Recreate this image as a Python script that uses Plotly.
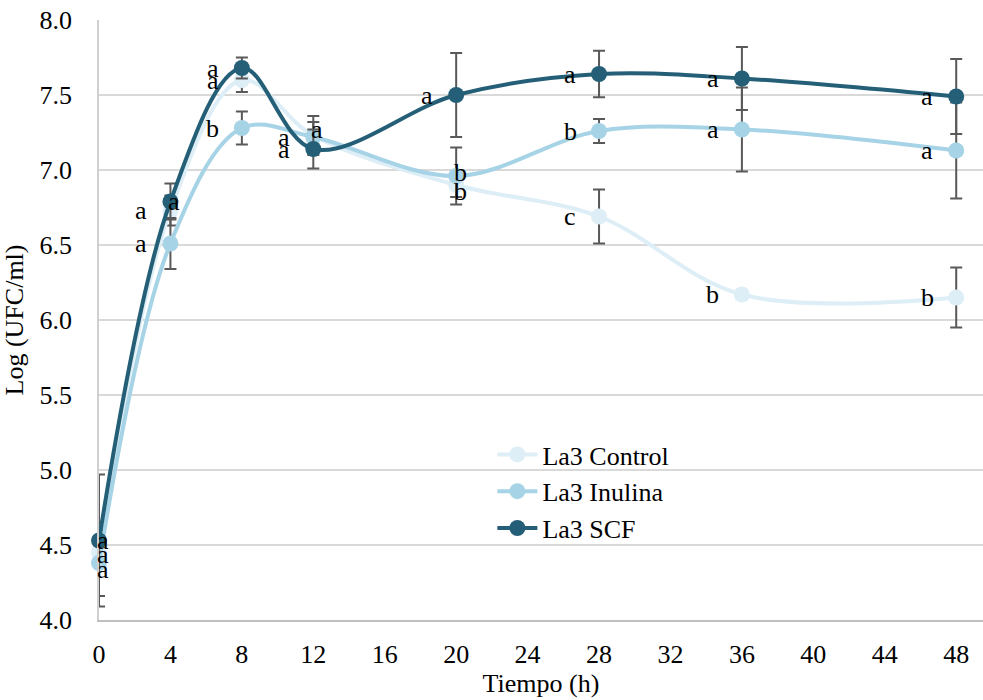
import plotly.graph_objects as go

hours = [0, 4, 8, 12, 20, 28, 36, 48]
x_ticks = [0, 4, 8, 12, 16, 20, 24, 28, 32, 36, 40, 44, 48]
y_ticks = [4.0, 4.5, 5.0, 5.5, 6.0, 6.5, 7.0, 7.5, 8.0]

series_names = ["La3 Control", "La3 Inulina", "La3 SCF"]

control_vals = [4.45, 6.73, 7.60, 7.23, 6.90, 6.69, 6.17, 6.15]
control_err = [0.07, 0.10, 0.08, 0.13, 0.08, 0.18, 0.03, 0.20]
control_labels = ["a", "a", "a", "a", "b", "c", "b", "b"]

inulina_vals = [4.38, 6.51, 7.28, 7.22, 6.96, 7.26, 7.27, 7.13]
inulina_err = [0.22, 0.17, 0.11, 0.10, 0.19, 0.08, 0.28, 0.32]
inulina_labels = ["a", "a", "b", "a", "b", "b", "a", "a"]

scf_vals = [4.53, 6.79, 7.68, 7.14, 7.50, 7.64, 7.61, 7.49]
scf_err = [0.44, 0.12, 0.07, 0.13, 0.28, 0.155, 0.21, 0.25]
scf_labels = ["a", "a", "a", "a", "a", "a", "a", "a"]

colors = ["#DDEEF6", "#A6D3E6", "#245F77"]
font_family = "Liberation Serif, Times New Roman, serif"
fs = 26

# label placement style per series point: L = left of point, C = on the point
placements = [
    ["C", "L", "L", "C", "C", "L", "L", "L"],
    ["C", "L", "L", "L", "C", "L", "L", "L"],
    ["C", "C", "L", "L", "L", "L", "L", "L"],
]
center_yshift = [
    [-2, 0, 0, 6, -6, 0, 0, 0],
    [-6, 0, 0, 0, 4, 0, 0, 0],
    [0, 0, 0, 0, 0, 0, 0, 0],
]

fig = go.Figure()
all_vals = [control_vals, inulina_vals, scf_vals]
all_err = [control_err, inulina_err, scf_err]
all_labels = [control_labels, inulina_labels, scf_labels]

for name, vals, err, col in zip(series_names, all_vals, all_err, colors):
    fig.add_trace(go.Scatter(
        x=hours, y=vals, name=name,
        mode="lines+markers", cliponaxis=False,
        line=dict(color=col, width=4, shape="spline", smoothing=1.0),
        marker=dict(color=col, size=16),
        error_y=dict(type="data", array=err, visible=True,
                     color="#595959", thickness=2, width=6),
    ))

annotations = []
for si, (vals, labels) in enumerate(zip(all_vals, all_labels)):
    for pi, (h, v, t) in enumerate(zip(hours, vals, labels)):
        if placements[si][pi] == "L":
            xs, ys = -29, 0
        else:
            xs, ys = 4, center_yshift[si][pi]
        annotations.append(dict(
            x=h, y=v, xref="x", yref="y", text=t, showarrow=False,
            xshift=xs, yshift=ys, xanchor="center", yanchor="middle",
            font=dict(family=font_family, size=fs, color="#000000"),
        ))

fig.update_layout(
    width=983, height=700,
    margin=dict(l=99, r=0, t=20, b=80),
    paper_bgcolor="white", plot_bgcolor="white",
    font=dict(family=font_family, size=fs, color="#000000"),
    showlegend=True,
    legend=dict(x=0.445, y=0.315, xanchor="left", yanchor="top",
                bgcolor="rgba(0,0,0,0)", font=dict(size=fs),
                tracegroupgap=0, itemwidth=40),
    annotations=annotations,
    xaxis=dict(
        range=[0, 49.5], tickmode="array", tickvals=x_ticks,
        ticktext=[str(v) for v in x_ticks],
        showgrid=False, zeroline=False,
        showline=True, linecolor="#BFBFBF", linewidth=1.5,
        ticks="", ticklabelstandoff=10,
        title=dict(text="Tiempo (h)", standoff=4, font=dict(size=fs)),
        tickfont=dict(size=fs),
    ),
    yaxis=dict(
        range=[4.0, 8.0], tickmode="array", tickvals=y_ticks,
        ticktext=[f"{v:.1f}" for v in y_ticks],
        showgrid=True, gridcolor="#D9D9D9", gridwidth=1.5,
        zeroline=False, showline=True, linecolor="#D0D0D0", linewidth=1.5,
        ticks="", ticklabelstandoff=20,
        title=dict(text="Log (UFC/ml)", standoff=12, font=dict(size=fs)),
        tickfont=dict(size=fs),
    ),
)

fig.write_html("out.html")
